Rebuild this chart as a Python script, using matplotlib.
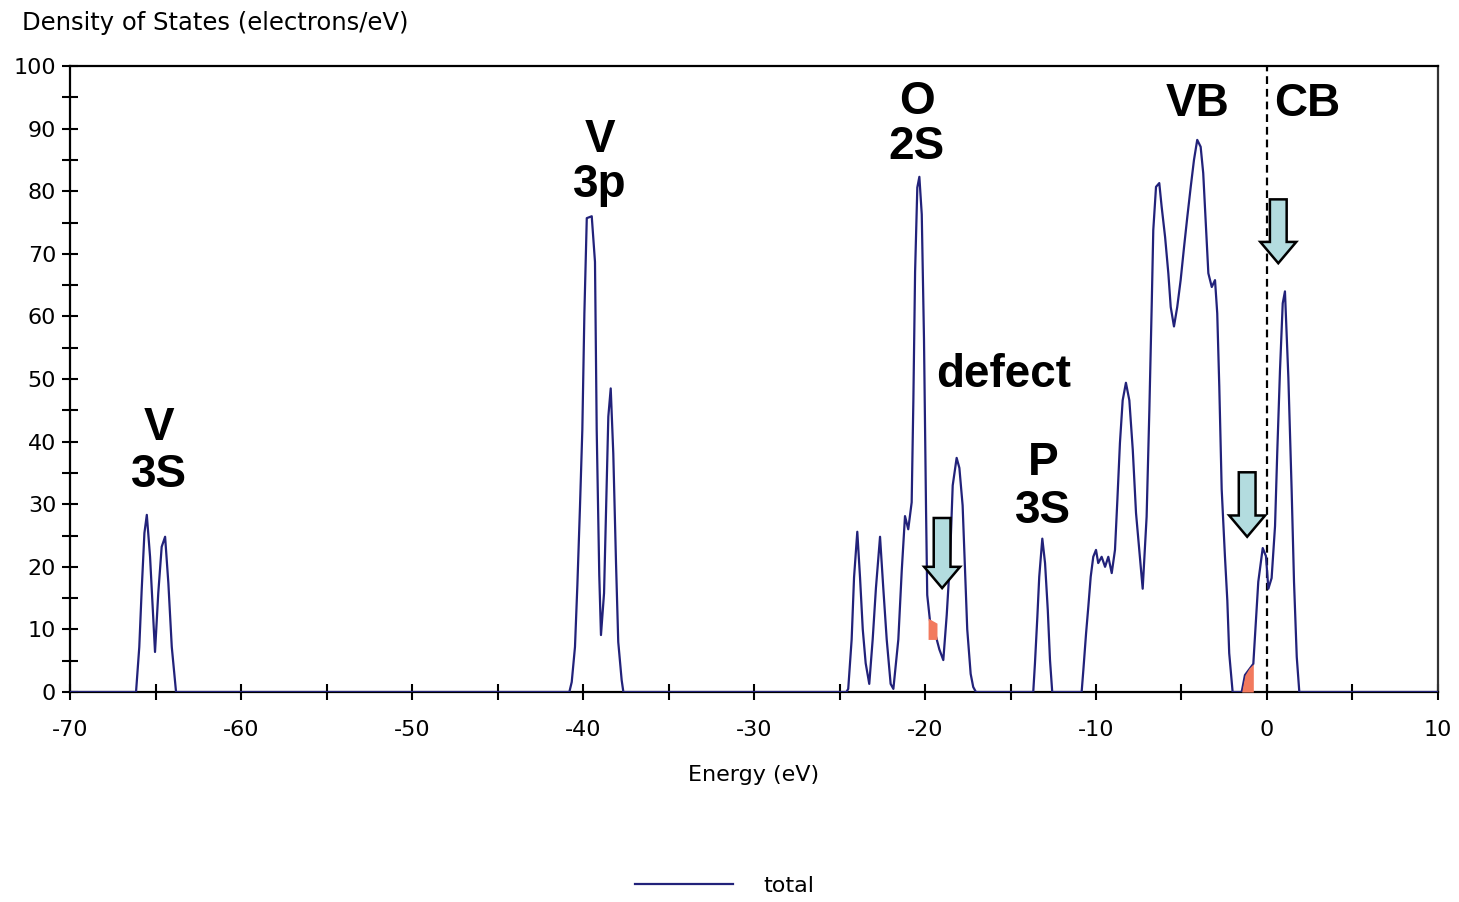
import numpy as np
import matplotlib
matplotlib.use('agg')
import matplotlib.pyplot as plt
from matplotlib.patches import FancyArrow
from matplotlib.ticker import MultipleLocator

# total density of states (energy in eV, states/eV)
energy = [-70.0,
          -66.14, -65.95, -65.81, -65.65, -65.51, -65.32, -65.16, -65.03,
          -64.84, -64.64, -64.44, -64.25, -64.05, -63.80,
          -40.80, -40.66, -40.47, -40.33, -40.18, -40.04, -39.92, -39.78,
          -39.49, -39.30, -39.20, -39.05, -38.95, -38.77, -38.65, -38.52,
          -38.38, -38.23, -38.07, -37.94, -37.74, -37.64,
          -24.60, -24.49, -24.29, -24.15, -23.96, -23.80, -23.64, -23.47,
          -23.26, -23.06, -22.87, -22.63, -22.44, -22.24, -22.01, -21.85,
          -21.56, -21.36, -21.17, -20.98, -20.78, -20.68, -20.58, -20.45,
          -20.33, -20.19, -20.06, -19.94, -19.87, -19.71, -19.42, -19.16,
          -18.93, -18.73, -18.54, -18.38, -18.15, -17.99, -17.80, -17.66,
          -17.53, -17.33, -17.18, -17.02,
          -13.67, -13.57, -13.43, -13.32, -13.14, -12.98, -12.82, -12.69, -12.56,
          -10.84, -10.74, -10.58, -10.45, -10.31, -10.16, -10.00, -9.87,
          -9.67, -9.47, -9.28, -9.08, -8.89, -8.75, -8.60, -8.44, -8.25,
          -8.05, -7.85, -7.66, -7.47, -7.27, -7.04, -6.88, -6.74, -6.65,
          -6.49, -6.30, -6.16, -5.96, -5.77, -5.63, -5.44, -5.25, -5.05,
          -4.85, -4.66, -4.46, -4.27, -4.08, -3.88, -3.73, -3.57, -3.43,
          -3.23, -3.04, -2.91, -2.79, -2.65, -2.46, -2.32, -2.21, -2.01,
          -1.48, -1.29, -0.80, -0.64, -0.51, -0.25, -0.06, 0.08, 0.27,
          0.47, 0.60, 0.76, 0.92, 1.05, 1.25, 1.44, 1.58, 1.74, 1.89,
          10.0]
dos = [0.0,
       0.0, 7.2, 16.3, 25.4, 28.3, 21.6, 13.1, 6.4,
       15.8, 23.2, 24.8, 17.4, 7.2, 0.0,
       0.0, 1.6, 7.2, 17.1, 29.4, 41.9, 60.5, 75.7,
       76.0, 68.7, 41.9, 18.7, 9.1, 15.8, 29.6, 44.0,
       48.5, 38.1, 20.6, 8.0, 1.9, 0.0,
       0.0, 0.5, 8.4, 18.3, 25.6, 18.3, 10.0, 4.6,
       1.3, 8.4, 16.6, 24.8, 16.6, 8.4, 1.3, 0.5,
       8.4, 19.4, 28.1, 26.0, 30.3, 46.7, 67.1, 80.6,
       82.3, 76.3, 56.5, 29.2, 15.5, 11.4, 9.5, 6.8,
       5.1, 12.3, 21.0, 33.0, 37.4, 35.8, 29.8, 19.4,
       10.0, 2.9, 0.8, 0.0,
       0.0, 4.6, 12.0, 18.4, 24.5, 20.6, 13.1, 5.1, 0.0,
       0.0, 3.5, 9.4, 13.6, 18.4, 21.6, 22.7, 20.6,
       21.6, 20.0, 21.6, 19.0, 22.7, 30.7, 39.8, 46.6, 49.4,
       46.6, 38.7, 28.6, 22.7, 16.5, 28.0, 45.0, 62.0, 73.8,
       80.7, 81.3, 77.5, 72.7, 66.9, 61.5, 58.4, 61.5, 65.8,
       71.1, 75.9, 80.7, 85.0, 88.2, 87.1, 82.9, 74.3, 66.9,
       64.7, 65.8, 60.5, 48.8, 32.4, 21.7, 14.6, 6.2, 0.0,
       0.0, 2.7, 4.5, 11.6, 17.6, 23.0, 21.7, 16.5, 18.2,
       26.5, 38.3, 51.4, 62.1, 64.0, 50.2, 32.4, 17.6, 5.6, 0.0,
       0.0]

# defect states (orange patches)
defect1_e = [-19.82, -19.30]
defect1_lo = [8.4, 8.4]
defect1_hi = [11.8, 11.0]
defect2_e = [-1.48, -1.29, -1.05, -0.80]
defect2_hi = [0.0, 2.7, 3.8, 4.5]

# peak labels: (x, baseline y of each line, text lines)
labels = [(-64.8, [40.2, 32.7], ['V', '3S']),
          (-39.0, [86.3, 79.0], ['V', '3p']),
          (-20.5, [92.3, 85.1], ['O', '2S']),
          (-15.4, [48.8], ['defect']),
          (-13.1, [34.7, 27.0], ['P', '3S']),
          (-4.05, [92.0], ['VB']),
          (2.35, [92.0], ['CB'])]

# down arrows: x, top, tip
arrows = [(-19.0, 27.8, 16.6),
          (-1.16, 35.1, 24.8),
          (0.66, 78.7, 68.5)]

plt.rcParams['font.family'] = ['DejaVu Sans']
plt.rcParams['axes.unicode_minus'] = False

fig = plt.figure(figsize=(14.59, 9.02), dpi=100)
ax = fig.add_axes([0.048, 0.2328, 0.9376, 0.694])

line_col = '#22227a'
ax.plot(energy, dos, color=line_col, lw=1.6, label='total', zorder=3)
ax.fill_between(defect1_e, defect1_lo, defect1_hi, color='#f27a5e', lw=0, zorder=4)
ax.fill_between(defect2_e, 0, defect2_hi, color='#f27a5e', lw=0, zorder=4)

ax.axvline(0, color='black', lw=1.6, ls=(0, (3.5, 2.2)), zorder=2)

for x, top, tip in arrows:
	head_len = 3.4
	ar = FancyArrow(x, top, 0, tip - top, width=0.98, head_width=2.1,
	                head_length=head_len, length_includes_head=True,
	                facecolor='#b3dcdf', edgecolor='black', lw=1.8, zorder=5)
	ax.add_patch(ar)

for x, ys, words in labels:
	for y, w in zip(ys, words):
		ax.text(x, y, w, ha='center', va='baseline', fontsize=33,
		        fontweight='bold', family='Liberation Sans', zorder=6)

ax.set_xlim(-70, 10)
ax.set_ylim(0, 100)
ax.xaxis.set_major_locator(MultipleLocator(10))
ax.xaxis.set_minor_locator(MultipleLocator(5))
ax.yaxis.set_major_locator(MultipleLocator(10))
ax.yaxis.set_minor_locator(MultipleLocator(5))
ax.tick_params(which='both', direction='inout', length=12, width=1.5,
               top=False, right=False)
ax.tick_params(axis='x', labelsize=16, pad=14)
ax.tick_params(axis='y', labelsize=16, pad=4)
for sp in ax.spines.values():
	sp.set_linewidth(1.6)
ax.spines['right'].set_color('#333333')

ax.set_xlabel('Energy (eV)', fontsize=16, labelpad=18)
fig.text(0.0151, 0.9745, 'Density of States (electrons/eV)', fontsize=17.5,
         ha='left', va='center')

ax.legend(loc='center', bbox_to_anchor=(0.4966, 0.0177),
          bbox_transform=fig.transFigure, frameon=False, fontsize=16,
          handlelength=4.4, handletextpad=1.35)

plt.savefig('out.png', dpi=100)
plt.close()
